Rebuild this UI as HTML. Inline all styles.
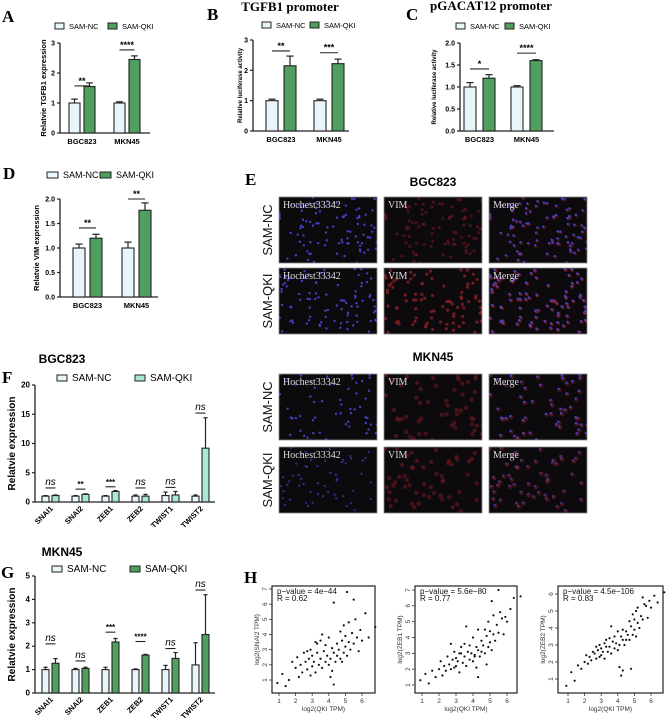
<!DOCTYPE html>
<html><head><meta charset="utf-8">
<style>
html,body{margin:0;padding:0;background:#fff;}
svg{display:block;font-family:"Liberation Sans",Arial,sans-serif;}
.pl{font-family:"Liberation Serif",serif;font-weight:bold;font-size:17px;}
.tt{font-family:"Liberation Serif",serif;font-weight:bold;font-size:13px;}
.ct{font-weight:bold;font-size:12px;}
</style></head>
<body>
<svg id="fig" width="667" height="727" viewBox="0 0 667 727" xmlns="http://www.w3.org/2000/svg">
<defs id="defs"></defs>
<text class="pl" x="2" y="22">A</text>
<text class="pl" x="207" y="20">B</text>
<text class="tt" x="290" y="11" text-anchor="middle">TGFB1 promoter</text>
<text class="pl" x="406" y="20">C</text>
<text class="tt" x="491" y="10" text-anchor="middle">pGACAT12 promoter</text>
<text class="pl" x="3" y="179">D</text>
<text class="pl" x="245" y="185">E</text>
<text class="ct" x="433" y="186" text-anchor="middle">BGC823</text>
<text class="ct" x="433" y="361" text-anchor="middle">MKN45</text>
<text class="pl" x="2" y="383">F</text>
<text class="ct" x="62" y="363" text-anchor="middle">BGC823</text>
<text class="pl" x="1" y="578">G</text>
<text class="ct" x="62" y="556" text-anchor="middle">MKN45</text>
<text class="pl" x="244" y="583">H</text>
</svg>
<script>
// ---- Panel A data ----
const aCats=["BGC823","MKN45"];
const aNC=[1.0,1.0];const aNCerr=[0.13,0.04];
const aQKI=[1.55,2.45];const aQKIerr=[0.12,0.12];
const aSig=["**","****"];const aSigY=[1.57,2.77];
const aTicks=[0,1,2,3];
// ---- Panel B ----
const bCats=["BGC823","MKN45"];
const bNC=[1.0,1.0];const bNCerr=[0.05,0.05];
const bQKI=[2.15,2.22];const bQKIerr=[0.32,0.15];
const bSig=["**","***"];const bSigY=[2.64,2.58];
const bTicks=[0,1,2,3];
// ---- Panel C ----
const cCats=["BGC823","MKN45"];
const cNC=[1.0,1.0];const cNCerr=[0.1,0.03];
const cQKI=[1.2,1.6];const cQKIerr=[0.08,0.02];
const cSig=["*","****"];const cSigY=[1.41,1.77];
const cTicks=[0,0.5,1.0,1.5,2.0];
// ---- Panel D ----
const dCats=["BGC823","MKN45"];
const dNC=[1.0,1.0];const dNCerr=[0.08,0.12];
const dQKI=[1.2,1.77];const dQKIerr=[0.08,0.15];
const dSig=["**","**"];const dSigY=[1.41,2.0];
const dTicks=[0,0.5,1.0,1.5,2.0];
// ---- Panel F ----
const fCats=["SNAI1","SNAI2","ZEB1","ZEB2","TWIST1","TWIST2"];
const fNC=[1.0,1.0,1.0,1.0,1.1,1.0];const fNCerr=[0.1,0.1,0.1,0.2,0.6,0.2];
const fQKI=[1.1,1.3,1.8,1.0,1.2,9.2];const fQKIerr=[0.1,0.1,0.15,0.3,0.6,5.2];
const fSig=["ns","**","***","ns","ns","ns"];const fSigY=[2.4,2.2,2.6,2.4,2.5,15.2];
const fTicks=[0,5,10,15,20];
// ---- Panel G ----
const gCats=["SNAI1","SNAI2","ZEB1","ZEB2","TWIST1","TWIST2"];
const gNC=[1.0,1.0,1.0,1.0,1.0,1.2];const gNCerr=[0.1,0.05,0.1,0.03,0.18,0.95];
const gQKI=[1.27,1.05,2.18,1.62,1.48,2.5];const gQKIerr=[0.2,0.05,0.15,0.03,0.25,1.7];
const gSig=["ns","ns","***","****","ns","ns"];const gSigY=[2.1,1.37,2.6,2.2,1.9,4.4];
const gTicks=[0,1,2,3,4,5];
// ---- Panel H scatter data ----
const hX=[0.9,1.2,1.4,1.6,1.8,2.0,2.1,2.2,2.3,2.4,2.5,2.6,2.7,2.8,2.9,3.0,3.0,3.1,3.2,3.3,3.3,3.4,3.5,3.5,3.6,3.7,3.8,3.8,3.9,4.0,4.0,4.1,4.2,4.2,4.3,4.3,4.4,4.5,4.5,4.6,4.7,4.7,4.8,4.9,4.9,5.0,5.0,5.1,5.2,5.2,5.3,5.4,5.5,5.6,5.7,5.8,5.9,6.0,6.2,6.4,6.8,4.3,5.1,2.9,3.6,4.8,3.2,2.7,4.1,5.5];
const h1Y=[0.8,1.4,0.6,1.0,2.2,1.8,2.5,1.2,2.0,1.5,2.8,2.2,1.7,2.4,3.0,1.9,2.6,2.2,1.5,2.8,3.4,2.0,2.4,3.6,1.8,2.9,2.2,3.3,2.6,2.0,3.8,2.4,3.1,1.6,2.8,6.1,2.2,3.4,2.6,3.0,4.2,2.4,3.6,2.8,4.6,3.2,3.9,2.6,3.5,4.8,3.0,4.1,3.4,5.0,3.8,2.9,4.3,3.6,5.4,3.8,4.5,0.7,6.8,1.3,4.0,2.2,3.5,2.9,1.2,6.3];
const h2Y=[1.3,1.7,1.1,1.9,1.5,2.0,2.5,1.6,2.2,1.9,2.8,2.3,2.0,2.6,3.1,2.2,2.7,2.5,1.8,3.0,3.4,2.4,2.8,3.6,2.2,3.1,2.6,3.5,3.0,2.5,4.0,2.9,3.4,2.1,3.2,4.5,2.8,3.8,3.1,3.5,4.5,3.0,4.1,3.4,5.0,3.7,4.4,3.2,4.2,5.4,3.8,4.8,4.3,5.6,5.2,4.2,5.3,5.0,5.8,6.5,6.6,1.5,6.3,2.1,4.7,2.3,3.0,3.6,2.8,7.0];
const h3Y=[0.6,1.4,0.9,1.8,1.6,2.0,2.4,1.9,2.3,2.1,2.6,2.5,2.2,2.7,3.0,2.4,2.8,2.6,2.2,2.9,3.3,2.6,2.9,3.4,2.5,3.2,2.8,3.5,3.1,2.7,3.8,3.0,3.5,1.2,3.3,3.9,3.0,3.8,3.3,3.6,4.4,3.3,4.1,3.6,4.8,3.9,4.5,3.5,4.3,5.2,4.0,4.7,4.5,5.4,5.3,4.6,5.6,5.2,5.9,5.5,6.1,1.5,5.0,2.3,4.1,1.6,3.1,2.9,1.7,5.8];
const h1XTicks=[1,2,3,4,5,6];const h1YTicks=[1,2,3,4,5,6,7];
const h3YTicks=[1,2,3,4,5,6];

const NS="http://www.w3.org/2000/svg";
const svg=document.getElementById('fig');
const defs=document.getElementById('defs');
function mk(tag,at,p){const e=document.createElementNS(NS,tag);for(const k in at)e.setAttribute(k,at[k]);(p||svg).appendChild(e);return e;}

function legend(x1,y,x2,c2,fs,bw){
  let b=mk('rect',{x:x1,y:y-4,width:bw,height:6,fill:'#e8f6fb',stroke:'#222','stroke-width':1});
  
  
  let t=mk('text',{x:x1+bw+5,y:y+2,'font-size':fs});t.textContent='SAM-NC';
  
  
  let b2=mk('rect',{x:x2,y:y-4,width:bw,height:6,fill:c2,stroke:'#222','stroke-width':1});
  
  
  let t2=mk('text',{x:x2+bw+5,y:y+2,'font-size':fs});t2.textContent='SAM-QKI';
  
  
}

function barChart(o){
  const g=mk('g',{});
  
  
  const max=o.ticks[o.ticks.length-1];
  const Y=v=>o.yBot-(v/max)*(o.yBot-o.yTop);
  const n=o.cats.length;const gW=(o.xEnd-o.x0)/n;
  const X=i=>o.x0+o.pad+i*gW;
  let ya=mk('line',{x1:o.x0,y1:o.yTop,x2:o.x0,y2:o.yBot,stroke:'#222','stroke-width':1.3},g);
  
  
  let xa=mk('line',{x1:o.x0,y1:o.yBot,x2:o.xEnd,y2:o.yBot,stroke:'#222','stroke-width':1.3},g);
  
  
  o.ticks.forEach(t=>{
    mk('line',{x1:o.x0-3,y1:Y(t),x2:o.x0,y2:Y(t),stroke:'#222','stroke-width':1.2},g);
    let tx=mk('text',{x:o.x0-5,y:Y(t)+2.5,'font-size':o.tfs,'font-weight':'bold','text-anchor':'end'},g);
    tx.textContent=o.fmt?t.toFixed(1):t;
    
    
  });
  let yl=mk('text',{x:0,y:0,'font-size':o.yfs,'font-weight':'bold','text-anchor':'middle',transform:`translate(${o.ylx},${(o.yTop+o.yBot)/2}) rotate(-90)`},g);
  yl.textContent=o.ylabel;
  
  
  for(let i=0;i<n;i++){
    const xn=X(i),xq=xn+o.bw+o.gap;
    [[xn,o.nc[i],o.ncErr[i],'#e8f6fb','bar-sam-nc'],[xq,o.qki[i],o.qkiErr[i],o.qc,'bar-sam-qki']].forEach(([x,v,e,c,nm])=>{
      mk('line',{x1:x+o.bw/2,y1:Y(v),x2:x+o.bw/2,y2:Y(v+e),stroke:'#222','stroke-width':1.2},g);
      mk('line',{x1:x+o.bw/2-o.bw*0.3,y1:Y(v+e),x2:x+o.bw/2+o.bw*0.3,y2:Y(v+e),stroke:'#222','stroke-width':1.2},g);
      let r=mk('rect',{x:x,y:Y(v),width:o.bw,height:o.yBot-Y(v),fill:c,stroke:'#222','stroke-width':1.1},g);
      
      
    });
    const cx=(xn+xq+o.bw)/2;
    const sl=mk('line',{x1:xn+o.bw*0.5,y1:Y(o.sigY[i]),x2:xq+o.bw*0.5,y2:Y(o.sigY[i]),stroke:'#222','stroke-width':1.1},g);
    
    
    const isNs=o.sig[i]==='ns';
    let st=mk('text',{x:cx,y:Y(o.sigY[i])-(isNs?3:2),'font-size':isNs?o.nsfs:o.sfs,'font-style':isNs?'italic':'normal','text-anchor':'middle','font-weight':isNs?'normal':'bold'},g);
    st.textContent=o.sig[i];
    
    
    let cl;
    if(o.rot){
      cl=mk('text',{x:0,y:0,'font-size':o.cfs,'font-weight':'bold','text-anchor':'end',transform:`translate(${cx+3},${o.yBot+7}) rotate(-45)`},g);
    }else{
      cl=mk('text',{x:cx,y:o.yBot+11,'font-size':o.cfs,'font-weight':'bold','text-anchor':'middle'},g);
    }
    cl.textContent=o.cats[i];
    
    
  }
}
const TEAL='#a9e8d8',GREEN='#4f9f5f';
const base={tfs:7,cfs:7.5,yfs:7,sfs:9,nsfs:11,fmt:false,rot:false};
barChart(Object.assign({},base,{name:'chart-a',x0:60,xEnd:150,yTop:43,yBot:133,ticks:aTicks,cats:aCats,nc:aNC,ncErr:aNCerr,qki:aQKI,qkiErr:aQKIerr,sig:aSig,sigY:aSigY,pad:9,bw:11,gap:4,qc:GREEN,ylx:46,ylabel:'Relatvie TGFB1 expression',yfs:7.5}));
legend(55,27,108,GREEN,7.5,9);
barChart(Object.assign({},base,{name:'chart-b',x0:253,xEnd:349,yTop:40,yBot:131,ticks:bTicks,cats:bCats,nc:bNC,ncErr:bNCerr,qki:bQKI,qkiErr:bQKIerr,sig:bSig,sigY:bSigY,pad:13,bw:12,gap:6,qc:GREEN,ylx:242,ylabel:'Relative luciferase activity',yfs:6}));
legend(262,26,310,GREEN,7.5,9);
barChart(Object.assign({},base,{name:'chart-c',x0:460,xEnd:554,yTop:43,yBot:131,ticks:cTicks,fmt:true,cats:cCats,nc:cNC,ncErr:cNCerr,qki:cQKI,qkiErr:cQKIerr,sig:cSig,sigY:cSigY,pad:4,bw:12,gap:7,qc:GREEN,ylx:436,ylabel:'Relative luciferase activity',yfs:6}));
legend(456,27,505,GREEN,7.5,9);
barChart(Object.assign({},base,{name:'chart-d',x0:60,xEnd:158,yTop:199,yBot:297,ticks:dTicks,fmt:true,cats:dCats,nc:dNC,ncErr:dNCerr,qki:dQKI,qkiErr:dQKIerr,sig:dSig,sigY:dSigY,pad:13,bw:12,gap:5,qc:GREEN,ylx:39,ylabel:'Relatvie VIM expression',yfs:7.5}));
legend(47,176,100,GREEN,9,11);
barChart(Object.assign({},base,{name:'chart-f',x0:35,xEnd:215,yTop:385,yBot:502,ticks:fTicks,cats:fCats,nc:fNC,ncErr:fNCerr,qki:fQKI,qkiErr:fQKIerr,sig:fSig,sigY:fSigY,pad:7,bw:7,gap:3,qc:TEAL,ylx:15,ylabel:'Relatvie expression',yfs:10,tfs:8,cfs:7.5,sfs:8,nsfs:10,rot:true}));
legend(57,379,135,TEAL,10,10);
barChart(Object.assign({},base,{name:'chart-g',x0:35,xEnd:215,yTop:576,yBot:693,ticks:gTicks,cats:gCats,nc:gNC,ncErr:gNCerr,qki:gQKI,qkiErr:gQKIerr,sig:gSig,sigY:gSigY,pad:7,bw:7,gap:3,qc:GREEN,ylx:15,ylabel:'Relatvie expression',yfs:10,tfs:8,cfs:7.5,sfs:8,nsfs:10,rot:true}));
legend(52,570,130,GREEN,10,10);

// ---- Panel H scatter plots ----
function scatter(o){
  const g=mk('g',{});
  
  
  const X=v=>o.x1px+(v-1)*(o.x6px-o.x1px)/5;
  const Y=v=>o.yAPx+(v-o.yA)*(o.yBPx-o.yAPx)/(o.yB-o.yA);
  let bx=mk('rect',{x:o.l,y:o.t,width:o.r-o.l,height:o.b-o.t,fill:'#fff',stroke:'#222','stroke-width':1.2},g);
  
  
  o.xt.forEach(t=>{
    mk('line',{x1:X(t),y1:o.b,x2:X(t),y2:o.b+3,stroke:'#333','stroke-width':0.8},g);
    let tx=mk('text',{x:X(t),y:o.b+10,'font-size':6.5,'text-anchor':'middle',fill:'#333'},g);tx.textContent=t;
    
    
  });
  o.yt.forEach(t=>{
    mk('line',{x1:o.l-3,y1:Y(t),x2:o.l,y2:Y(t),stroke:'#333','stroke-width':0.8},g);
    let tx=mk('text',{x:0,y:0,'font-size':6.5,'text-anchor':'middle',fill:'#333',transform:`translate(${o.l-5},${Y(t)}) rotate(-90)`},g);tx.textContent=t;
    
    
  });
  let xl=mk('text',{x:(o.l+o.r)/2,y:o.b+18,'font-size':6.5,'text-anchor':'middle',fill:'#333'},g);xl.textContent='log2(QKI TPM)';
  
  
  let yl=mk('text',{x:0,y:0,'font-size':6.5,'text-anchor':'middle',fill:'#333',transform:`translate(${o.l-13},${(o.t+o.b)/2}) rotate(-90)`},g);yl.textContent=o.ylabel;
  
  
  o.xs.forEach((v,i)=>{
    let c=mk('circle',{cx:X(v),cy:Y(o.ys[i]),r:1.1,fill:'#111'},g);
    
    
  });
  let p=mk('text',{x:o.l+5,y:o.t+8,'font-size':8,fill:'#111'},g);p.textContent=o.p;
  
  
  let r=mk('text',{x:o.l+5,y:o.t+15,'font-size':8,fill:'#111'},g);r.textContent=o.R;
  
  
}
scatter({name:'scatter-snai2',l:272,r:375,t:586,b:693,x1px:279,x6px:362,yA:7,yAPx:589,yB:1,yBPx:680,xt:h1XTicks,yt:h1YTicks,xs:hX,ys:h1Y,ylabel:'log2(SNAI2 TPM)',p:'p\u2212value = 4e\u221244',R:'R = 0.62'});
scatter({name:'scatter-zeb1',l:415,r:517,t:586,b:693,x1px:422,x6px:507,yA:7,yAPx:590,yB:1,yBPx:685,xt:h1XTicks,yt:h1YTicks,xs:hX,ys:h2Y,ylabel:'log2(ZEB1 TPM)',p:'p\u2212value = 5.6e\u221280',R:'R = 0.77'});
scatter({name:'scatter-zeb2',l:558,r:663,t:586,b:693,x1px:568,x6px:651,yA:6,yAPx:594,yB:1,yBPx:679,xt:h1XTicks,yt:h3YTicks,xs:hX,ys:h3Y,ylabel:'log2(ZEB2 TPM)',p:'p\u2212value = 4.5e\u2212106',R:'R = 0.83'});

// ---- Panel E microscopy (decorative texture) ----
let seed=12345;function rnd(){seed=(seed*1103515245+12345)%2147483648;return seed/2147483648;}
const cols=[279,384,489],rowsY=[197,268,374,447],W=98,H=66;
const colNames=['Hochest33342','VIM','Merge'];
const rowLab=['SAM-NC','SAM-QKI','SAM-NC','SAM-QKI'];
let clipId=0;
rowsY.forEach((ry,ri)=>{
  let lb=mk('text',{x:0,y:0,'font-size':13,'text-anchor':'middle',fill:'#111',transform:`translate(${272},${ry+H/2}) rotate(-90)`});
  lb.textContent=rowLab[ri];
  
  
  const pts=[];const n=ri<2?90:55;
  for(let k=0;k<n;k++)pts.push([rnd()*W,rnd()*H,rnd()]);
  cols.forEach((cx,ci)=>{
    const id='clip'+(clipId++);
    const cp=mk('clipPath',{id:id},defs);
    mk('rect',{x:cx,y:ry,width:W,height:H},cp);
    const g=mk('g',{});
    
    
    mk('rect',{x:cx,y:ry,width:W,height:H,fill:'#0c0a0c'},g);
    const inner=mk('g',{'clip-path':`url(#${id})`},g);
    pts.forEach(p=>{
      if(ci!==0){mk('circle',{cx:cx+p[0]+1,cy:ry+p[1]+1,r:ri>=2?2.2:1.6,fill:'#8a1f25','fill-opacity':ri===1?0.8:0.45},inner);}
      if(ci!==1){mk('circle',{cx:cx+p[0],cy:ry+p[1],r:1.2,fill:'#4a4ae8','fill-opacity':ri===3?0.55:0.85},inner);}
    });
    mk('rect',{x:cx,y:ry,width:W,height:H,fill:'none',stroke:'#888','stroke-width':0.8},g);
    let t=mk('text',{x:cx+4,y:ry+11,'font-size':10,'font-family':'Liberation Serif, serif',fill:'#ddd'},g);
    t.textContent=colNames[ci];
    
    
  });
});
</script>
</body></html>
